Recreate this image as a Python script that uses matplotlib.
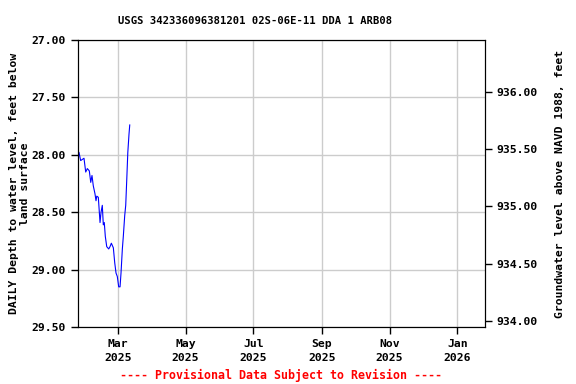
import matplotlib
matplotlib.use("Agg")
from matplotlib import pyplot as plt
from matplotlib.font_manager import FontProperties
import matplotlib.dates as mdates
import numpy as np
import pandas as pd

# Daily depth to water (feet below land surface)
dates = ["2025-01-24 22:00", "2025-01-26 10:00", "2025-01-29 10:00", "2025-01-30 23:00",
         "2025-02-01 10:00", "2025-02-03 05:00", "2025-02-04 12:00", "2025-02-05 15:00",
         "2025-02-06 19:00", "2025-02-08 08:00", "2025-02-09 06:00", "2025-02-09 22:00",
         "2025-02-11 08:00", "2025-02-12 21:00", "2025-02-13 19:00", "2025-02-14 22:00",
         "2025-02-15 20:00", "2025-02-16 17:00", "2025-02-17 15:00", "2025-02-18 22:00",
         "2025-02-20 17:00", "2025-02-21 21:00", "2025-02-23 02:00", "2025-02-24 21:00",
         "2025-02-26 03:00", "2025-02-27 07:00", "2025-02-28 11:00", "2025-03-01 17:00",
         "2025-03-02 22:00", "2025-03-03 19:00", "2025-03-05 00:00", "2025-03-05 21:00",
         "2025-03-07 03:00", "2025-03-08 01:00", "2025-03-09 00:00", "2025-03-09 22:00",
         "2025-03-11 00:00", "2025-03-11 16:00"]
depth = [27.98, 28.05, 28.03, 28.15, 28.12, 28.14, 28.24, 28.18,
         28.27, 28.34, 28.40, 28.36, 28.37, 28.59, 28.50, 28.44,
         28.61, 28.59, 28.71, 28.80, 28.82, 28.80, 28.77, 28.81,
         28.94, 29.03, 29.06, 29.15, 29.15, 29.03, 28.82, 28.71,
         28.53, 28.44, 28.21, 27.98, 27.82, 27.74]
datum = 963.45  # land surface elevation, NAVD 1988

t = pd.to_datetime(dates)

mono = {"family": "DejaVu Sans Mono", "weight": "bold", "size": 8.2}
tickfont = FontProperties(family="DejaVu Sans Mono", weight="bold", size=8.2)

fig = plt.figure(figsize=(5.76, 3.84), dpi=100)
ax = fig.add_axes([0.1354, 0.1484, 0.7066, 0.7474])

ax.plot(t, depth, color="blue", linewidth=0.8)

ax.set_xlim(pd.Timestamp("2025-01-24"), pd.Timestamp("2026-01-26"))
ax.set_ylim(29.5, 27.0)
ax.set_yticks(np.arange(27.0, 29.51, 0.5))
ax.set_yticklabels([f"{v:.2f}" for v in np.arange(27.0, 29.51, 0.5)], fontdict=mono)

ax.xaxis.set_major_locator(mdates.MonthLocator(bymonth=[1, 3, 5, 7, 9, 11]))
ax.xaxis.set_major_formatter(mdates.DateFormatter("%b\n%Y"))
for lab in ax.get_xticklabels():
    lab.set_fontproperties(tickfont)
    lab.set_linespacing(1.5)

ax.grid(True, color="#cccccc", linewidth=1)
ax.set_axisbelow(True)
ax.tick_params(direction="out", length=5, width=1)

fig.text(0.443, 0.946, "USGS 342336096381201 02S-06E-11 DDA 1 ARB08",
         ha="center", va="center", family="DejaVu Sans Mono", weight="bold", size=7.6)
ax.set_ylabel("DAILY Depth to water level, feet below\nland surface", fontdict=mono,
              labelpad=1)

ax2 = ax.twinx()
ax2.set_ylim(datum - 29.5, datum - 27.0)
ax2.set_yticks(np.arange(934.0, 936.01, 0.5))
ax2.set_yticklabels([f"{v:.2f}" for v in np.arange(934.0, 936.01, 0.5)], fontdict=mono)
ax2.tick_params(direction="out", length=5, width=1)
ax2.set_ylabel("Groundwater level above NAVD 1988, feet", fontdict=mono, labelpad=12)

fig.text(0.487, 0.023, "---- Provisional Data Subject to Revision ----",
         color="red", ha="center", va="center", family="DejaVu Sans Mono",
         weight="bold", size=8.4)

plt.savefig("out.png", dpi=100)
